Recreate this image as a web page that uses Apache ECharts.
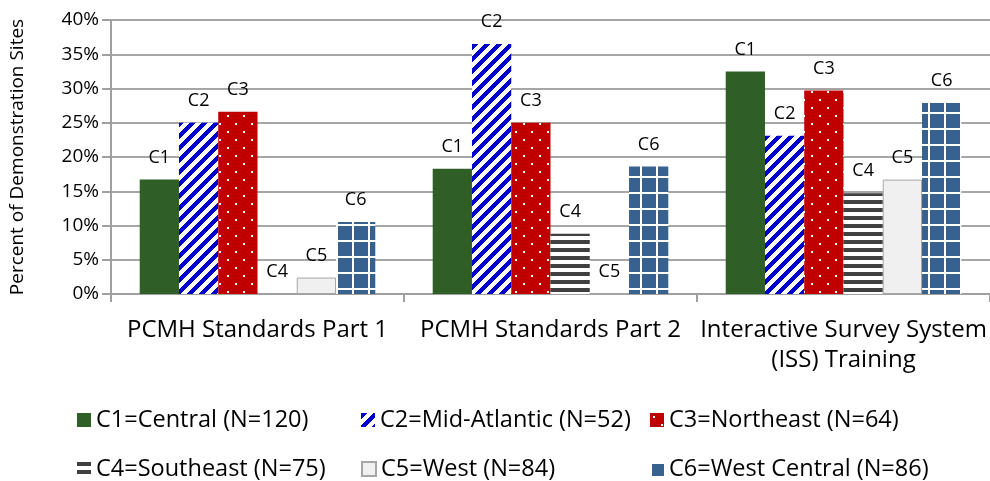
<!DOCTYPE html>
<html>
<head>
<meta charset="utf-8">
<script src="https://cdn.jsdelivr.net/npm/echarts@6/dist/echarts.min.js"></script>
<style>
  html, body { margin: 0; padding: 0; background: #fff; }
  #chart { width: 990px; height: 481px; }
</style>
</head>
<body>
<div id="chart"></div>
<script>
// Training topics on the category axis
const categories = ['PCMH Standards Part 1', 'PCMH Standards Part 2', 'Interactive Survey System\n(ISS) Training'];

// Region codes shown above each bar, and their legend descriptions
const regionCodes = ['C1', 'C2', 'C3', 'C4', 'C5', 'C6'];
const regionNames = [
  'C1=Central (N=120)',
  'C2=Mid-Atlantic (N=52)',
  'C3=Northeast (N=64)',
  'C4=Southeast (N=75)',
  'C5=West (N=84)',
  'C6=West Central (N=86)'
];

// Percent of demonstration sites per region, one value per topic
const c1Values = [16.7, 18.3, 32.5];
const c2Values = [25.0, 36.5, 23.1];
const c3Values = [26.6, 25.0, 29.7];
const c4Values = [0, 8.8, 14.7];
const c5Values = [2.4, 0, 16.7];
const c6Values = [10.5, 18.6, 27.9];

// Y axis ticks
const yMin = 0, yMax = 40, yStep = 5;

const FONT = '"Open Sans"';

// Fill patterns -------------------------------------------------------
function tile(w, h, paint) {
  const c = document.createElement('canvas');
  c.width = w; c.height = h;
  const ctx = c.getContext('2d');
  paint(ctx, w, h);
  return { image: c, repeat: 'repeat' };
}

const solidGreen = '#2f5e26';

const blueDiagonal = tile(12, 12, (ctx, w, h) => {
  ctx.fillStyle = '#ffffff';
  ctx.fillRect(0, 0, w, h);
  ctx.fillStyle = '#0000cc';
  for (let y = 0; y < h; y++) {
    for (let x = 0; x < w; x++) {
      if ((x + y) % 12 < 6) ctx.fillRect(x, y, 1, 1);
    }
  }
});

const redDots = tile(16, 16, (ctx, w, h) => {
  ctx.fillStyle = '#c00000';
  ctx.fillRect(0, 0, w, h);
  ctx.fillStyle = '#ffffff';
  ctx.fillRect(3, 3, 2, 2);
  ctx.fillRect(11, 11, 2, 2);
});

const grayStripes = tile(8, 8, (ctx, w, h) => {
  ctx.fillStyle = '#ffffff';
  ctx.fillRect(0, 0, w, h);
  ctx.fillStyle = '#404040';
  ctx.fillRect(0, 0, w, 4);
});

const lightGray = '#f0f0f0';

const blueGrid = tile(16, 16, (ctx, w, h) => {
  ctx.fillStyle = '#37618f';
  ctx.fillRect(0, 0, w, h);
  ctx.fillStyle = '#ffffff';
  ctx.fillRect(0, 0, 2, h);
  ctx.fillRect(0, 0, w, 2);
});

const fills = [solidGreen, blueDiagonal, redDots, grayStripes, lightGray, blueGrid];
const borders = [
  { borderWidth: 0 },
  { borderWidth: 0 },
  { borderWidth: 0 },
  { borderWidth: 0 },
  { borderColor: '#a6a6a6', borderWidth: 1 },
  { borderWidth: 0 }
];
const valueSets = [c1Values, c2Values, c3Values, c4Values, c5Values, c6Values];

const series = regionNames.map((name, i) => ({
  name: name,
  type: 'bar',
  data: valueSets[i],
  barGap: '0%',
  barCategoryGap: '19.6%',
  itemStyle: Object.assign({ color: fills[i] }, borders[i]),
  label: {
    show: true,
    position: 'top',
    distance: 13,
    formatter: () => regionCodes[i],
    fontFamily: FONT,
    fontSize: 18,
    color: '#000'
  },
  emphasis: { disabled: true },
  animation: false
}));

// Legend laid out as a 3x2 grid of single-item legends
const legendCols = [72, 356, 645];
const legendRows = [403, 452];
const legends = regionNames.map((name, i) => ({
  data: [name],
  left: legendCols[i % 3],
  top: legendRows[Math.floor(i / 3)],
  itemWidth: 14,
  itemHeight: 14,
  itemGap: 0,
  icon: 'rect',
  textStyle: { fontFamily: FONT, fontSize: 23.5, color: '#000' },
  selectedMode: false
}));

const chart = echarts.init(document.getElementById('chart'), null, { renderer: 'canvas' });
chart.setOption({
  animation: false,
  backgroundColor: '#ffffff',
  grid: { left: 109, right: -7, top: 20, bottom: 187, containLabel: false },
  legend: legends,
  xAxis: {
    type: 'category',
    data: categories,
    axisLine: { show: true, lineStyle: { color: '#a0a0a0', width: 2 } },
    axisTick: { show: true, length: 8, lineStyle: { color: '#a0a0a0', width: 2 } },
    axisLabel: {
      fontFamily: FONT,
      fontSize: 24,
      color: '#000',
      margin: 21,
      lineHeight: 30,
      interval: 0
    }
  },
  yAxis: {
    type: 'value',
    min: yMin,
    max: yMax,
    interval: yStep,
    name: 'Percent of Demonstration Sites',
    nameLocation: 'middle',
    nameGap: 84,
    nameTextStyle: { fontFamily: FONT, fontSize: 19, color: '#000' },
    axisLine: { show: true, lineStyle: { color: '#a0a0a0', width: 2 } },
    axisTick: { show: true, length: 9, lineStyle: { color: '#a0a0a0', width: 2 } },
    axisLabel: {
      formatter: '{value}%',
      fontFamily: FONT,
      fontSize: 19,
      color: '#000',
      margin: 12
    },
    splitLine: { show: true, lineStyle: { color: '#a6a6a6', width: 2 } }
  },
  series: series
});
</script>
</body>
</html>
